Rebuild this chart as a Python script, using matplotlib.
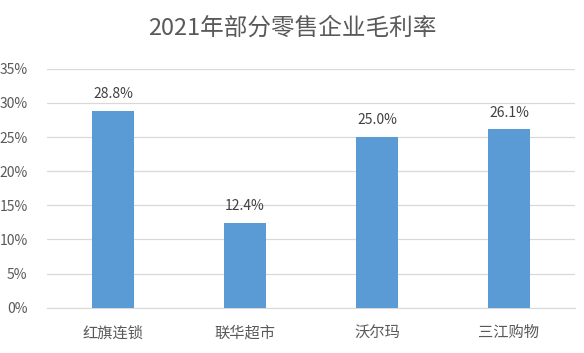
import numpy as np
import matplotlib
matplotlib.use('Agg')
import matplotlib.pyplot as plt
from matplotlib.ticker import FuncFormatter

plt.rcParams['font.family'] = ['Noto Sans CJK SC', 'DejaVu Sans']

# data
companies = ['红旗连锁', '联华超市', '沃尔玛', '三江购物']
margins = [28.8, 12.4, 25.0, 26.1]
labels = ['28.8%', '12.4%', '25.0%', '26.1%']

fig = plt.figure(figsize=(5.84, 3.53), dpi=100)
ax = fig.add_axes([0.0805, 0.1283, 0.904, 0.677])

x = np.arange(len(companies))
bars = ax.bar(x, margins, width=0.32, color='#5B9BD5', zorder=3)

for b, lab in zip(bars, labels):
    ax.annotate(lab, (b.get_x() + b.get_width() / 2, b.get_height()),
                xytext=(0, 7), textcoords='offset points',
                ha='center', va='bottom', fontsize=10, color='#404040')

ax.set_xlim(-0.5, len(companies) - 0.5)
ax.set_ylim(0, 35)
ax.set_yticks(np.arange(0, 36, 5))
ax.yaxis.set_major_formatter(FuncFormatter(lambda v, p: '%d%%' % v))
ax.set_xticks(x)
ax.set_xticklabels(companies, fontsize=11, color='#595959')
ax.tick_params(axis='y', labelsize=10, labelcolor='#595959', length=0, pad=14)
ax.tick_params(axis='x', length=0, pad=12)

ax.grid(axis='y', color='#D9D9D9', linewidth=0.9, zorder=0)
for s in ['top', 'right', 'left']:
    ax.spines[s].set_visible(False)
ax.spines['bottom'].set_color('#D9D9D9')

fig.suptitle('2021年部分零售企业毛利率', x=0.5, y=0.953, fontsize=17, color='#595959')

fig.savefig('out.png', dpi=100)
